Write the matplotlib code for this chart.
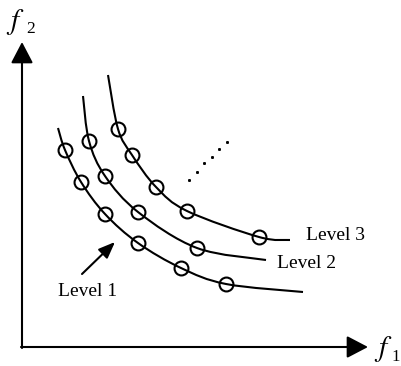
import numpy as np
import matplotlib
matplotlib.use("Agg")
import matplotlib.pyplot as plt
from matplotlib.path import Path
from matplotlib.patches import PathPatch

# ---- data (pixel-like coordinates, y down) ----
level_names = ["Level 1", "Level 2", "Level 3"]

l1_curve_x = [58, 65, 81, 105, 138, 181, 226, 303]
l1_curve_y = [128, 150, 182, 214, 243, 268, 284, 292]
l1_pts_x = [65, 81, 105, 138, 181, 226]
l1_pts_y = [150, 182, 214, 243, 268, 284]

l2_curve_x = [83, 89, 105, 138, 197, 266]
l2_curve_y = [96, 141, 176, 212, 248, 260]
l2_pts_x = [89, 105, 138, 197]
l2_pts_y = [141, 176, 212, 248]

l3_curve_x = [108, 118, 132, 156, 187, 259, 290]
l3_curve_y = [75, 129, 155, 187, 211, 237, 240]
l3_pts_x = [118, 132, 156, 187, 259]
l3_pts_y = [129, 155, 187, 211, 237]

dots_x = [189, 197, 204, 212, 219, 227]
dots_y = [180, 172, 163, 157, 149, 142]

label_x = [58, 277, 306]
label_y = [292, 263, 235]

plt.rcParams['font.family'] = ['Liberation Serif', 'DejaVu Serif']
plt.rcParams['mathtext.fontset'] = 'stix'

fig = plt.figure(figsize=(4.01, 3.66), dpi=100)
ax = fig.add_axes([0, 0, 1, 1])
ax.set_xlim(0, 401)
ax.set_ylim(366, 0)
ax.axis('off')


def smooth_path(xs, ys):
    p = np.column_stack([xs, ys]).astype(float)
    n = len(p)
    verts = [p[0]]
    codes = [Path.MOVETO]
    for i in range(n - 1):
        p0 = p[i - 1] if i > 0 else p[i]
        p1 = p[i]
        p2 = p[i + 1]
        p3 = p[i + 2] if i + 2 < n else p[i + 1]
        c1 = p1 + (p2 - p0) / 6.0
        c2 = p2 - (p3 - p1) / 6.0
        verts += [c1, c2, p2]
        codes += [Path.CURVE4] * 3
    return Path(verts, codes)


for cx, cy, px, py in [(l1_curve_x, l1_curve_y, l1_pts_x, l1_pts_y),
                       (l2_curve_x, l2_curve_y, l2_pts_x, l2_pts_y),
                       (l3_curve_x, l3_curve_y, l3_pts_x, l3_pts_y)]:
    ax.add_patch(PathPatch(smooth_path(cx, cy), fill=False, lw=1.5,
                           edgecolor='black', capstyle='butt'))
    ax.plot(px, py, linestyle='none', marker='o', markersize=10,
            markerfacecolor='none', markeredgecolor='black', markeredgewidth=1.5)

ax.plot(dots_x, dots_y, linestyle='none', marker='s', markersize=1.1,
        color='black')

# axes arrows
ax.annotate('', xy=(22, 42), xytext=(22, 348),
            arrowprops=dict(arrowstyle='-|>,head_length=1.3,head_width=0.68',
                            lw=1.5, color='black', shrinkA=0, shrinkB=0))
ax.annotate('', xy=(368, 347), xytext=(21, 347),
            arrowprops=dict(arrowstyle='-|>,head_length=1.3,head_width=0.68',
                            lw=1.5, color='black', shrinkA=0, shrinkB=0))

# Level 1 arrow
ax.annotate('', xy=(115, 242), xytext=(82, 274),
            arrowprops=dict(arrowstyle='-|>,head_length=1.0,head_width=0.4',
                            lw=1.5, color='black', shrinkA=0, shrinkB=0))

for name, x, y in zip(level_names, label_x, label_y):
    ax.text(x, y, name, fontsize=14, ha='left', va='center', color='black')

# axis labels
ax.text(6, 29, r'$f$', fontsize=21, ha='left', va='baseline')
ax.text(26, 33, '2', fontsize=12.5, ha='left', va='baseline')
ax.text(374, 356, r'$f$', fontsize=21, ha='left', va='baseline')
ax.text(400, 361, '1', fontsize=12, ha='right', va='baseline')

fig.savefig('out.png', dpi=100)
